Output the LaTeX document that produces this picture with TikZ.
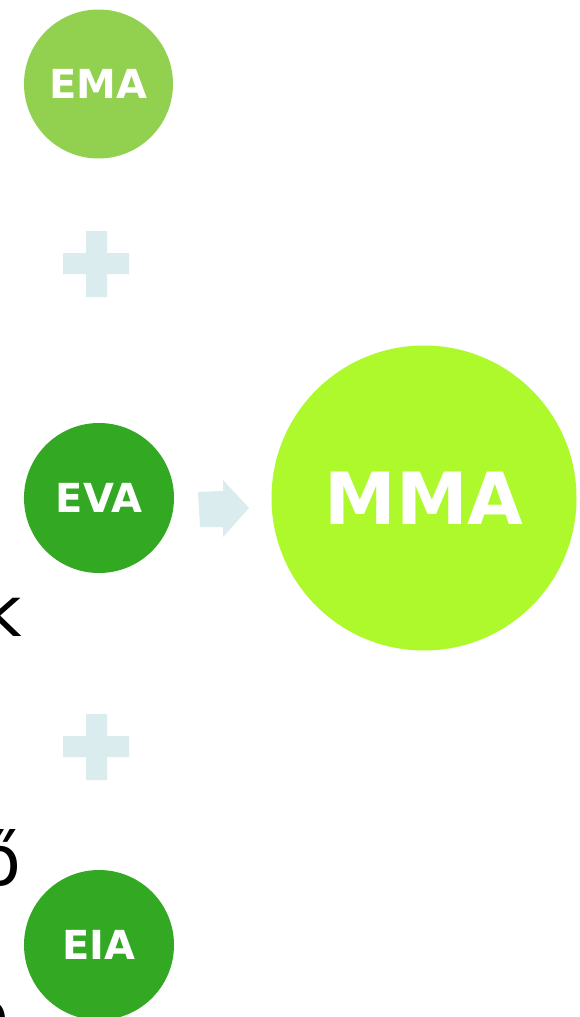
\documentclass[tikz,border=0pt]{standalone}
\usepackage{fontspec}
\setmainfont{DejaVu Sans}
\definecolor{lightg}{RGB}{146,208,80}
\definecolor{darkg}{RGB}{50,168,35}
\definecolor{limeg}{RGB}{173,249,43}
\definecolor{paleb}{RGB}{218,236,238}
\tikzset{
  circ/.style={circle, inner sep=0pt, text=white, font=\bfseries\fontsize{40}{40}\selectfont},
  edgetext/.style={inner sep=0pt, text=black, font=\fontsize{70}{70}\selectfont},
}
\begin{document}
\begin{tikzpicture}[x=1pt,y=-1pt]
\useasboundingbox (0,0) rectangle (580,1017);
\fill[white] (0,0) rectangle (580,1017);
% partial text cut at the left edge
\node[edgetext, anchor=base east] (t1) at (22,636) {k};
\node[edgetext, anchor=base east] (t2) at (22,885) {ő};
\node[edgetext, anchor=north east] (t3) at (10,1000) {o};
% circles
\node[circ, fill=lightg, minimum size=149pt] (ema) at (98.5,84) {EMA};
\node[circ, fill=darkg, minimum size=150pt] (eva) at (99,498) {EVA};
\node[circ, fill=darkg, minimum size=150pt] (eia) at (99,945) {EIA};
\node[circ, fill=limeg, minimum size=305pt, font=\bfseries\fontsize{72}{72}\selectfont] (mma) at (424,498) {MMA};
% plus signs
\fill[paleb] (86,231) rectangle (107,297) (63,253) rectangle (129,274);
\fill[paleb] (86,714) rectangle (107,780) (63,736) rectangle (129,757);
% arrow
\fill[paleb] (198,492) -- (223,491) -- (223,480) -- (249,508) -- (223,537) -- (223,527) -- (200,527) -- cycle;
\end{tikzpicture}
\end{document}
